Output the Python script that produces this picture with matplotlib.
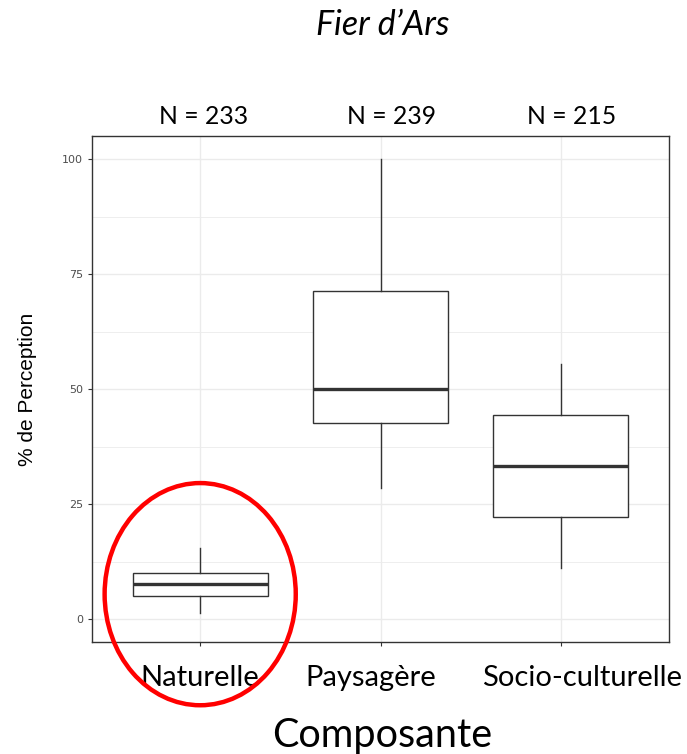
import numpy as np
import matplotlib
matplotlib.use('Agg')
import matplotlib.pyplot as plt
import matplotlib.patches as patches
from matplotlib.ticker import MultipleLocator

categories = ['Naturelle', 'Paysagère', 'Socio-culturelle']
n_labels = ['N = 233', 'N = 239', 'N = 215']
whisker_low = [1.3, 28.4, 11.0]
q1 = [5.0, 42.7, 22.1]
median = [7.7, 50.0, 33.3]
q3 = [10.1, 71.4, 44.3]
whisker_high = [15.4, 100.0, 55.4]

stats = []
for i, cat in enumerate(categories):
    stats.append({'label': cat, 'whislo': whisker_low[i], 'q1': q1[i], 'med': median[i],
                  'q3': q3[i], 'whishi': whisker_high[i], 'fliers': []})

fig = plt.figure(figsize=(6.87, 7.54), dpi=100)
ax = fig.add_axes([92/687, 112/754, 577/687, 506/754])

ax.bxp(stats, positions=[1, 2, 3], widths=0.75, showcaps=False, showfliers=False,
       patch_artist=True,
       boxprops=dict(facecolor='white', edgecolor='#333333', linewidth=1.0),
       whiskerprops=dict(color='#333333', linewidth=1.0),
       medianprops=dict(color='#333333', linewidth=2.4),
       zorder=3)

ax.set_xlim(0.4, 3.6)
ax.set_ylim(-5, 105)
ax.yaxis.set_major_locator(MultipleLocator(25))
ax.yaxis.set_minor_locator(MultipleLocator(12.5))
ax.set_xticks([1, 2, 3])
ax.set_xticklabels(['', '', ''])
ax.grid(which='major', color='#ebebeb', linewidth=1.0, zorder=0)
ax.grid(which='minor', axis='y', color='#ebebeb', linewidth=0.6, zorder=0)
ax.set_axisbelow(True)
for s in ax.spines.values():
    s.set_color('#333333')
    s.set_linewidth(1.0)
ax.tick_params(axis='both', which='major', color='#333333', length=3, width=0.8,
               labelsize=8, labelcolor='#4d4d4d')
ax.tick_params(axis='y', which='minor', length=0)
ax.tick_params(axis='x', pad=2)

ax.set_ylabel('% de Perception', fontsize=15, family='Liberation Sans', labelpad=18)

# N labels above the panel
n_dx = [0.02, 0.06, 0.06]
for i, lab in enumerate(n_labels):
    ax.text(i + 1 + n_dx[i], 107.5, lab, fontsize=17.8, family='Lato',
            ha='center', va='baseline')

# category labels below the panel
cat_dx = [0.0, -0.055, 0.12]
for i, cat in enumerate(categories):
    ax.text(i + 1 + cat_dx[i], -14.6, cat, fontsize=21, family='Lato',
            ha='center', va='baseline')

fig.text(383/687, 1 - 35/754, 'Fier d\u2019Ars', fontsize=24.5, family='Lato',
         style='italic', ha='center', va='baseline')
fig.text(382/687, 1 - 747/754, 'Composante', fontsize=28.5, family='Lato',
         ha='center', va='baseline')

# red highlight ellipse around Naturelle
ell = patches.Ellipse((1, 5.4), 1.06, 48.3, fill=False, edgecolor='red',
                      linewidth=3.2, clip_on=False, zorder=5)
ax.add_patch(ell)

fig.savefig('out.png', dpi=100)
